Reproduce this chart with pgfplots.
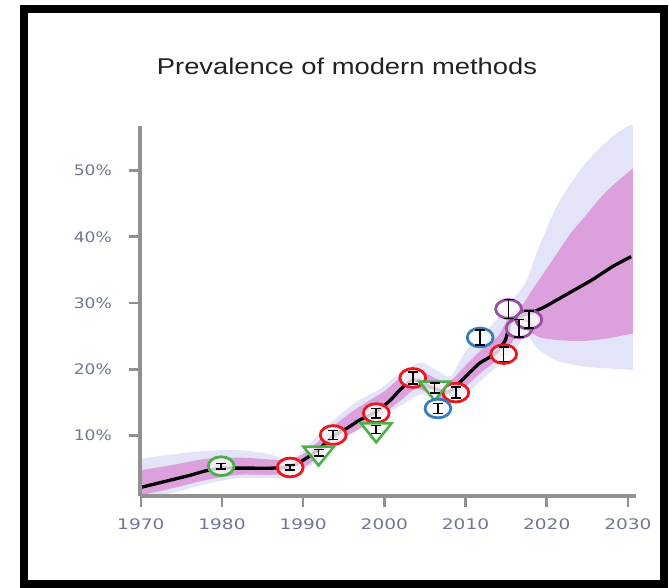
\documentclass[border=0pt]{standalone}
\usepackage{fontspec}
\usepackage{pgfplots}
\pgfplotsset{compat=1.18}
\usepackage{pgfplotstable}
\usepgfplotslibrary{fillbetween}
\newfontfamily\titlefont{Liberation Sans}
\newfontfamily\tickfont{DejaVu Sans}

\definecolor{outerband}{RGB}{228,228,248}
\definecolor{innerband}{RGB}{220,160,220}
\definecolor{axisgray}{RGB}{145,145,145}
\definecolor{labelgray}{RGB}{110,119,146}
\definecolor{titlegray}{RGB}{34,34,34}
\definecolor{setred}{HTML}{E41A1C}
\definecolor{setblue}{HTML}{377EB8}
\definecolor{setgreen}{HTML}{4DAF4A}
\definecolor{setpurple}{HTML}{984EA3}

% median estimate
\pgfplotstableread{
year mid
1970 2.2
1972 2.8
1974 3.4
1976 4.0
1978 4.7
1980 5.1
1982 5.1
1984 5.1
1986 5.1
1988 5.2
1989.6 6.0
1991.6 7.6
1993.7 9.9
1995.5 11.2
1997 12.4
1999 13.6
2000.7 15.3
2002 17.0
2003.4 18.4
2004.5 18.2
2005.5 17.4
2007 16.8
2008 16.6
2009.6 18.4
2011.7 20.9
2013.7 22.4
2014.9 24.4
2015.5 27.0
2016 27.7
2017 28.1
2019 29.0
2020 29.6
2022.3 31.2
2025.6 33.5
2028.1 35.5
2030.4 37.0
}\median

% 80% interval
\pgfplotstableread{
year lo hi
1970 1.0 4.8
1974 2.1 5.6
1978 3.3 6.5
1982 4.1 6.7
1986 4.1 6.4
1988 4.3 6.3
1990 5.2 7.2
1992 6.9 9.3
1994 9.0 11.7
1996 10.4 13.6
1998 11.8 15.2
2000 13.4 16.7
2002 15.3 18.8
2004 17.1 20.1
2006 16.0 18.8
2008 15.4 18.2
2010 17.4 20.6
2012 19.6 23.0
2014 21.5 25.0
2015.5 23.7 28.2
2017 26.0 29.7
2018 25.6 31.6
2019 24.9 33.4
2020 24.6 35.2
2021.5 24.4 37.9
2023 24.3 40.6
2024.8 24.3 43.2
2026.5 24.5 45.7
2028.1 24.8 47.7
2030.6 25.4 50.3
}\inner

% 95% interval
\pgfplotstableread{
year lo hi
1970 0.2 6.5
1974 1.4 7.2
1978 2.7 7.7
1982 3.6 7.8
1985.5 3.6 7.3
1987.6 3.7 6.5
1989.2 4.4 6.9
1991.3 5.8 9.4
1993.7 8.6 12.3
1996.6 10.8 15.1
1999.5 12.7 17.1
2002 14.5 19.5
2004.5 16.2 21.0
2006.5 15.3 19.8
2008.2 14.8 19.0
2010.1 16.3 22.9
2013 19.5 26.4
2015.8 22.5 30.5
2017.5 24.9 33.4
2019.1 22.9 38.6
2021.5 21.2 45.2
2024.8 20.4 51.1
2028.1 20.1 55.1
2030.6 19.9 57.1
}\outer

% survey observations
\pgfplotstableread{
x y e
1988.4 5.2 0.4
1993.7 10.1 0.7
1999.0 13.4 0.7
2003.5 18.7 0.9
2008.8 16.5 0.85
2014.7 22.3 1.1
}\redpts
\pgfplotstableread{
x y e
1979.9 5.4 0.4
}\greenpts
\pgfplotstableread{
x y e
1991.9 7.4 0.5
1999.0 10.9 0.6
2006.2 17.2 0.75
}\greentri
\pgfplotstableread{
x y e
2006.6 14.1 0.75
2011.8 24.8 1.1
}\bluepts
\pgfplotstableread{
x y e
2015.3 29.1 1.4
2016.6 26.2 1.3
2017.8 27.5 1.3
}\purplepts

\pgfplotsset{
  circ/.style={only marks, mark=*, mark size=9.4bp,
    mark options={draw=#1, fill=white, fill opacity=0.8, line width=2.8bp, xscale=1.375}},
  tri/.style={only marks, mark=triangle*, mark size=12.6bp,
    mark options={draw=#1, fill=white, fill opacity=0.8, line width=2.6bp, xscale=1.4, rotate=180}},
  ebar/.style={draw=none, mark=none, forget plot,
    error bars/.cd, y dir=both, y explicit, error mark=|,
    error bar style={draw=black, line width=1.5bp},
    error mark options={draw=black, line width=1.5bp, mark size=5bp}},
}

\begin{document}
\begin{tikzpicture}
\begin{axis}[
  at={(140bp,90bp)}, anchor=south west,
  scale only axis, width=496bp, height=370bp,
  xmin=1969.9, xmax=2031, ymin=0.9, ymax=56.7,
  clip mode=individual,
  axis x line=bottom, axis y line=left,
  axis line style={-, draw=axisgray, line width=3.5bp},
  axis on top,
  xtick={1970,1980,...,2030}, ytick={10,20,...,50},
  /pgf/number format/assume math mode=true,
  /pgf/number format/1000 sep={},
  xticklabel={\pgfmathprintnumber{\tick}},
  yticklabel={\pgfmathprintnumber{\tick}\%},
  tick align=outside, major tick length=11bp,
  tick style={draw=axisgray, line width=2.5bp},
  tick label style={font=\tickfont\fontsize{14.5bp}{16bp}\selectfont, text=labelgray},
  xticklabel style={yshift=-8bp, xscale=1.28},
  yticklabel style={xshift=-13bp, xscale=1.18},
]
\addplot[draw=none, name path=ohi, smooth] table[x=year, y=hi] {\outer};
\addplot[draw=none, name path=olo, smooth] table[x=year, y=lo] {\outer};
\addplot[fill=outerband, draw=none] fill between[of=ohi and olo];
\addplot[draw=none, name path=ihi, smooth] table[x=year, y=hi] {\inner};
\addplot[draw=none, name path=ilo, smooth] table[x=year, y=lo] {\inner};
\addplot[fill=innerband, draw=none] fill between[of=ihi and ilo];

\addplot[black, line width=3.3bp, smooth, tension=0.3, line join=round] table[x=year, y=mid] {\median};

\addplot[circ=setgreen] table[x=x, y=y] {\greenpts};
\addplot[circ=setred] table[x=x, y=y] {\redpts};
\addplot[tri=setgreen] table[x=x, y=y] {\greentri};
\addplot[circ=setblue] table[x=x, y=y] {\bluepts};
\addplot[circ=setpurple] table[x=x, y=y] {\purplepts};

\addplot[ebar] table[x=x, y=y, y error=e] {\greenpts};
\addplot[ebar] table[x=x, y=y, y error=e] {\redpts};
\addplot[ebar] table[x=x, y=y, y error=e] {\greentri};
\addplot[ebar] table[x=x, y=y, y error=e] {\bluepts};
\addplot[ebar] table[x=x, y=y, y error=e] {\purplepts};
\end{axis}
\node[font=\titlefont\fontsize{22.8bp}{26bp}\selectfont, text=titlegray, xscale=1.2] at (347bp,520bp) {Prevalence of modern methods};
\draw[line width=8bp] (24bp,2bp) rectangle (664bp,577bp);
\useasboundingbox (0,0) rectangle (669bp,586bp);
\end{tikzpicture}
\end{document}
